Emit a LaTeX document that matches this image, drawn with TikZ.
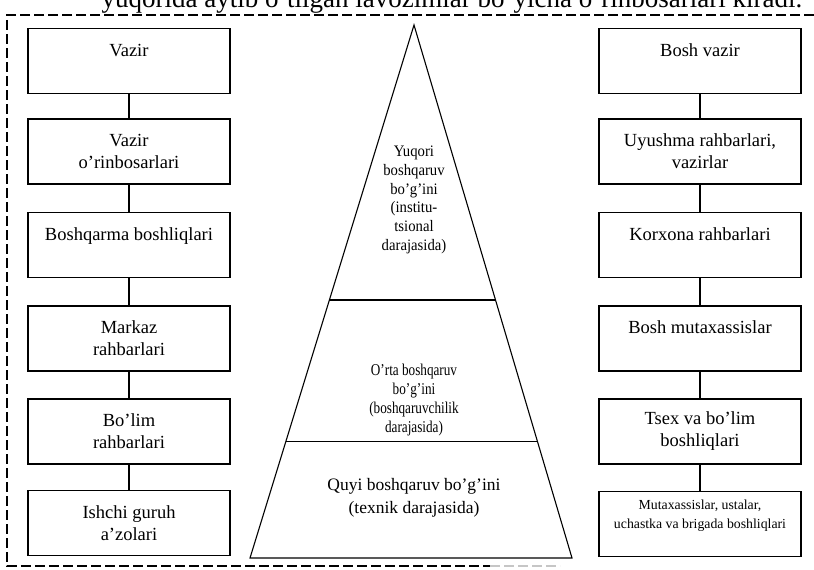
\documentclass[tikz,border=0pt]{standalone}
\usepackage{fontspec}
\usetikzlibrary{calc}
\setmainfont{Liberation Serif}
\newfontfamily\narrowserif[FakeStretch=0.8]{Liberation Serif}
\newfontfamily\slimserif[FakeStretch=0.92]{Liberation Serif}
\begin{document}
\begin{tikzpicture}[x=1pt,y=-1pt,
  post/.style={draw, line width=1.1pt, minimum width=202pt, minimum height=65pt,
    inner sep=0pt, align=center, font=\fontsize{18.5}{22}\selectfont},
  link/.style={draw, line width=1.1pt},
  edge/.style={line width=1.1pt},
  frame/.style={line width=1.1pt, dash pattern=on 10pt off 4pt},
  tier/.style={align=center, inner sep=0pt}
]
\useasboundingbox (0,0) rectangle (814,570);

% heading line, partly above the page edge
\node[anchor=base, inner sep=0pt, font=\fontsize{27}{30}\selectfont] (head) at (452,8)
  {yuqorida aytib o’tilgan lavozimlar bo’yicha o’rinbosarlari kiradi.};

% dashed frame
\draw[frame] (814,15) -- (7,15) -- (7,566) -- (490,566);
\draw[frame, gray!45] (490,566) -- (560,566);

% left column: ministry
\node[post] (L1) at (129,61)    {Vazir\\\mbox{}};
\node[post] (L2) at (129,151.5) {Vazir\\o’rinbosarlari};
\node[post] (L3) at (129,245)   {Boshqarma boshliqlari\\\mbox{}};
\node[post] (L4) at (129,338.5) {Markaz\\rahbarlari};
\node[post] (L5) at (129,431.5) {Bo’lim\\rahbarlari};
\node[post] (L6) at (129,523)   {Ishchi guruh\\a'zolari};
\foreach \a/\b in {L1/L2,L2/L3,L3/L4,L4/L5,L5/L6} \draw[link] (\a) -- (\b);

% right column: government and enterprises
\node[post] (R1) at (700,61)    {Bosh vazir\\\mbox{}};
\node[post] (R2) at (700,151.5) {Uyushma rahbarlari,\\vazirlar};
\node[post] (R3) at (700,245)   {Korxona rahbarlari\\\mbox{}};
\node[post] (R4) at (700,338.5) {Bosh mutaxassislar\\\mbox{}};
\node[post] (R5) at (700,431.5) {Tsex va bo’lim\\boshliqlari};
\node[post, font=\fontsize{13.8}{19}\selectfont] (R6) at (700,524)
  {Mutaxassislar, ustalar,\\uchastka va brigada boshliqlari\\\mbox{}};
\foreach \a/\b in {R1/R2,R2/R3,R3/R4,R4/R5,R5/R6} \draw[link] (\a) -- (\b);

% pyramid of management levels
\coordinate (apex) at (414,25);
\coordinate (bl) at (250,558);
\coordinate (br) at (572,558);
\draw[edge, line join=miter] (apex) -- (bl) -- (br) -- cycle;
\draw[edge] ($(apex)!0.516!(bl)$) -- ($(apex)!0.516!(br)$);
\draw[edge] ($(apex)!0.782!(bl)$) -- ($(apex)!0.782!(br)$);

\node[tier, font=\slimserif\fontsize{16}{18.8}\selectfont] (top) at (414,200)
  {Yuqori\\boshqaruv\\bo’g’ini\\(institu-\\tsional\\darajasida)};
\node[tier, font=\narrowserif\fontsize{16.5}{19}\selectfont] (mid) at (414,400)
  {O’rta boshqaruv\\bo’g’ini\\(boshqaruvchilik\\darajasida)};
\node[tier, font=\fontsize{17.5}{23}\selectfont] (low) at (414,498)
  {Quyi boshqaruv bo’g’ini\\(texnik darajasida)};
\end{tikzpicture}
\end{document}
